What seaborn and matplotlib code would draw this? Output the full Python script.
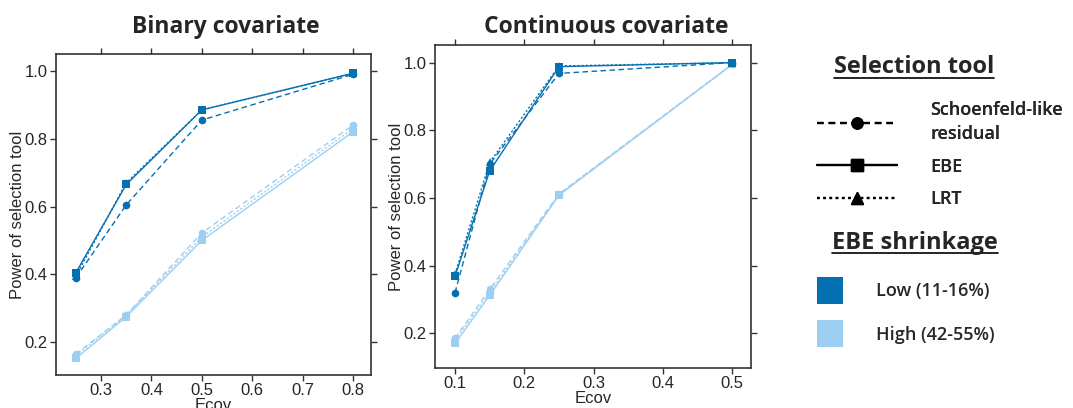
import pandas as pd
import seaborn as sns
import matplotlib.pyplot as plt
from matplotlib.lines import Line2D
from matplotlib.patches import Patch

# values
tools = ["Schoenfeld-like residual", "EBE", "LRT"]
shrinkage = ["Low (11-16%)", "High (42-55%)"]

ecov_bin = [0.25, 0.35, 0.5, 0.8]
bin_low_schoen = [0.39, 0.605, 0.855, 0.99]
bin_low_ebe = [0.405, 0.665, 0.885, 0.993]
bin_low_lrt = [0.395, 0.67, 0.885, 0.993]
bin_high_schoen = [0.165, 0.28, 0.522, 0.84]
bin_high_ebe = [0.152, 0.275, 0.50, 0.82]
bin_high_lrt = [0.16, 0.28, 0.51, 0.83]

ecov_cont = [0.1, 0.15, 0.25, 0.5]
cont_low_schoen = [0.32, 0.70, 0.968, 1.0]
cont_low_ebe = [0.368, 0.68, 0.988, 1.0]
cont_low_lrt = [0.375, 0.705, 0.99, 1.0]
cont_high_schoen = [0.185, 0.33, 0.612, 0.995]
cont_high_ebe = [0.17, 0.312, 0.608, 0.995]
cont_high_lrt = [0.18, 0.32, 0.61, 0.995]

dark = "#0570b0"
light = "#9dcff2"


def make_df(x, series):
    rows = []
    for (shr, tool), vals in series.items():
        for xi, v in zip(x, vals):
            rows.append({"Ecov": xi, "power": v, "tool": tool, "shrink": shr})
    return pd.DataFrame(rows)


df_bin = make_df(ecov_bin, {
    (shrinkage[0], tools[0]): bin_low_schoen,
    (shrinkage[0], tools[1]): bin_low_ebe,
    (shrinkage[0], tools[2]): bin_low_lrt,
    (shrinkage[1], tools[0]): bin_high_schoen,
    (shrinkage[1], tools[1]): bin_high_ebe,
    (shrinkage[1], tools[2]): bin_high_lrt,
})
df_cont = make_df(ecov_cont, {
    (shrinkage[0], tools[0]): cont_low_schoen,
    (shrinkage[0], tools[1]): cont_low_ebe,
    (shrinkage[0], tools[2]): cont_low_lrt,
    (shrinkage[1], tools[0]): cont_high_schoen,
    (shrinkage[1], tools[1]): cont_high_ebe,
    (shrinkage[1], tools[2]): cont_high_lrt,
})

sns.set_style('white')
plt.rcParams['font.family'] = ['Liberation Sans', 'DejaVu Sans']

palette = {shrinkage[0]: dark, shrinkage[1]: light}
markers = {tools[0]: 'o', tools[1]: 's', tools[2]: '^'}
dashes = {tools[0]: (4, 2.5), tools[1]: '', tools[2]: (1.5, 1.5)}

fig = plt.figure(figsize=(10.73, 4.08), dpi=100)
ax1 = fig.add_axes([0.0522, 0.0809, 0.2936, 0.7868])
ax2 = fig.add_axes([0.4054, 0.098, 0.2945, 0.7917])

for ax, d in [(ax1, df_bin), (ax2, df_cont)]:
    sns.lineplot(data=d, x="Ecov", y="power", hue="shrink", style="tool",
                 hue_order=shrinkage[::-1], style_order=tools,
                 palette=palette, markers=markers, dashes=dashes,
                 markersize=5.5, markeredgewidth=0, linewidth=1,
                 legend=False, ax=ax)
    ax.set_xlabel("Ecov", fontsize=12, labelpad=0)
    ax.set_ylabel("Power of selection tool", fontsize=12, labelpad=0)
    ax.set_yticks([0.2, 0.4, 0.6, 0.8, 1.0])
    ax.tick_params(axis='both', which='both', direction='out', length=4,
                   width=1, color='#333333', labelsize=12, pad=2,
                   top=True, right=True, bottom=True, left=True,
                   labeltop=False, labelright=False)
    for s in ax.spines.values():
        s.set_color('#333333')
        s.set_linewidth(1.2)

ax1.set_xlim(0.2105, 0.836)
ax1.set_ylim(0.103, 1.05)
ax1.set_xticks([0.3, 0.4, 0.5, 0.6, 0.7, 0.8])
ax2.set_xlim(0.0711, 0.527)
ax2.set_ylim(0.0974, 1.052)
ax2.set_xticks([0.1, 0.2, 0.3, 0.4, 0.5])

title_font = ['Open Sans', 'DejaVu Sans']
fig.text(0.210, 0.935, "Binary covariate", fontsize=16.5, fontweight='bold',
         family=title_font, ha='center', va='center')
fig.text(0.565, 0.935, "Continuous covariate", fontsize=16.5, fontweight='bold',
         family=title_font, ha='center', va='center')

# legend headings, underlined
head1 = fig.text(0.852, 0.835, "Selection tool", fontsize=17, fontweight='bold',
                 family=title_font, ha='center', va='center')
head2 = fig.text(0.853, 0.405, "EBE shrinkage", fontsize=17, fontweight='bold',
                 family=title_font, ha='center', va='center')

label_prop = {'family': title_font, 'size': 13, 'weight': 'semibold'}
tool_handles = [
    Line2D([], [], color='black', marker='o', linestyle=(0, (3, 2.2)), lw=1.6, markersize=8),
    Line2D([], [], color='black', marker='s', linestyle='-', lw=1.6, markersize=8),
    Line2D([], [], color='black', marker='^', linestyle=(0, (1.2, 1.6)), lw=1.6, markersize=8),
]
tool_labels = ["Schoenfeld-like\nresidual", "EBE", "LRT"]
leg1 = fig.legend(tool_handles, tool_labels, loc='upper left',
                  bbox_to_anchor=(0.761, 0.753), borderaxespad=0, borderpad=0,
                  frameon=False, handlelength=4.45, handletextpad=1.85,
                  labelspacing=0.8, prop=label_prop)
leg1.get_texts()[0].set_linespacing(1.45)

shr_handles = [Patch(facecolor=dark, edgecolor='none'),
               Patch(facecolor=light, edgecolor='none')]
leg2 = fig.legend(shr_handles, shrinkage, loc='upper left',
                  bbox_to_anchor=(0.761, 0.322), borderaxespad=0, borderpad=0,
                  frameon=False, handlelength=1.45, handleheight=1.95,
                  handletextpad=1.85, labelspacing=0.9, prop=label_prop)
fig.add_artist(leg1)

fig.canvas.draw()
inv = fig.transFigure.inverted()
for h in (head1, head2):
    bb = h.get_window_extent()
    (x0, y0), (x1, y1) = inv.transform([(bb.x0, bb.y0), (bb.x1, bb.y1)])
    fig.add_artist(Line2D([x0, x1], [y0 + 0.004, y0 + 0.004], color='black',
                          lw=1.2, transform=fig.transFigure))

fig.savefig("out.png", dpi=100)
